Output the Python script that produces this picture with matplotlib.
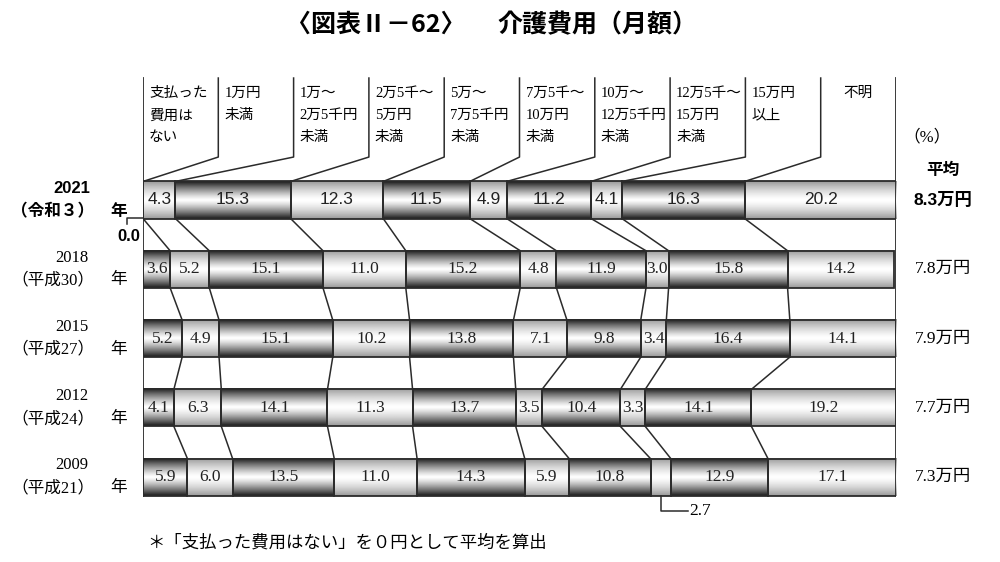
import numpy as np
import matplotlib.pyplot as plt

# data
years = ['2021', '2018', '2015', '2012', '2009']
eras = ['（令和３）', '（平成30）', '（平成27）', '（平成24）', '（平成21）']
averages = ['8.3万円', '7.8万円', '7.9万円', '7.7万円', '7.3万円']
categories = ['支払った\n費用は\nない', '1万円\n未満', '1万～\n2万5千円\n未満',
              '2万5千～\n5万円\n未満', '5万～\n7万5千円\n未満', '7万5千～\n10万円\n未満',
              '10万～\n12万5千円\n未満', '12万5千～\n15万円\n未満', '15万円\n以上', '不明']

v2021 = [0.0, 4.3, 15.3, 12.3, 11.5, 4.9, 11.2, 4.1, 16.3, 20.2]
v2018 = [3.6, 5.2, 15.1, 11.0, 15.2, 4.8, 11.9, 3.0, 15.8, 14.2]
v2015 = [5.2, 4.9, 15.1, 10.2, 13.8, 7.1, 9.8, 3.4, 16.4, 14.1]
v2012 = [4.1, 6.3, 14.1, 11.3, 13.7, 3.5, 10.4, 3.3, 14.1, 19.2]
v2009 = [5.9, 6.0, 13.5, 11.0, 14.3, 5.9, 10.8, 2.7, 12.9, 17.1]
values = [v2021, v2018, v2015, v2012, v2009]

CJK = 'Noto Sans CJK JP'
SANS = ['Liberation Sans', CJK]
SERIF = ['Liberation Serif', CJK]
plt.rcParams['font.family'] = [CJK, 'DejaVu Sans']
LC = '#2b2b2b'

fig = plt.figure(figsize=(10, 5.62), dpi=100)
ax = fig.add_axes([0.143, 0, 0.753, 1])

h = 0.535
t = np.linspace(0, 1, 80)
e = np.abs(t - 0.5) / 0.5
grad_dark = 1 - 0.9 * e ** 1.25
grad_light = 1 - 0.4 * e ** 1.4

bounds = [np.concatenate([[0], np.cumsum(v)]) for v in values]

for i, v in enumerate(values):
    left = bounds[i][:-1]
    for k, (l, w) in enumerate(zip(left, v)):
        if w <= 0:
            continue
        g = grad_dark if k % 2 == 0 else grad_light
        ax.imshow(g[:, None], extent=(l, l + w, i + h / 2, i - h / 2), cmap='gray',
                  vmin=0, vmax=1, aspect='auto', interpolation='bilinear', zorder=1)
    ax.barh(i, v, left=left, height=h, facecolor='none', edgecolor=LC,
            linewidth=1.3, zorder=3)
    fam = SANS if i == 0 else SERIF
    for l, w in zip(left, v):
        if w <= 0 or (i == 4 and w == 2.7):
            continue
        ax.text(l + w / 2, i, f'{w:.1f}', ha='center', va='center',
                fontsize=12.5, family=fam, color='#222', zorder=4)

# connectors between rows
for i in range(len(values) - 1):
    for k in range(1, 10):
        ax.plot([bounds[i][k], bounds[i + 1][k]], [i + h / 2, i + 1 - h / 2],
                color=LC, lw=1.1, zorder=2)

# header columns
top_y, bend_y = -1.76, -0.62
for k in range(1, 10):
    ax.plot([10 * k, 10 * k, bounds[0][k]], [top_y, bend_y, -h / 2],
            color=LC, lw=1.1, zorder=2)
for x in (0, 100):
    ax.plot([x, x], [top_y, len(values) - 1 + h / 2], color=LC, lw=1.3, zorder=2)
for k, lab in enumerate(categories):
    if lab == '不明':
        ax.text(10 * k + 5, -1.63, lab, ha='center', va='top', fontsize=10.5, family=SERIF)
    else:
        ax.text(10 * k + 0.8, -1.63, lab, ha='left', va='top', fontsize=10.5,
                family=SERIF, linespacing=1.9)

# row labels
for i, (yr, era, avg) in enumerate(zip(years, eras, averages)):
    wt = 'bold' if i == 0 else 'normal'
    fam = SANS if i == 0 else SERIF
    ax.text(-9.4, i - 0.17, yr, ha='center', va='center', fontsize=12, family=fam,
            weight=wt)
    ax.text(-6.5, i + 0.16, era, ha='right', va='center', fontsize=12, family=fam,
            weight=wt)
    ax.text(-3.2, i + 0.16, '年', ha='center', va='center', fontsize=12, family=fam,
            weight=wt)
    ax.text(106.2, i, avg, ha='center', va='center', fontsize=12.5, family=fam,
            weight=wt)
ax.text(104.1, -0.9, '（%）', ha='center', va='center', fontsize=12, family=SERIF)
ax.text(106.2, -0.43, '平均', ha='center', va='center', fontsize=12, weight='bold')

# 0.0 and 2.7 callouts
ax.plot([-2.1, -2.1, 0], [0.35, 0.26, 0.26], color=LC, lw=1.1, clip_on=False)
ax.text(-0.4, 0.53, f'{v2021[0]:.1f}', ha='right', va='center', fontsize=12,
        family=SANS, weight='bold')
cx = bounds[4][7] + v2009[7] / 2
ax.plot([cx, cx, 72.4], [4 + h / 2, 4 + h / 2 + 0.22, 4 + h / 2 + 0.22],
        color=LC, lw=1.1, clip_on=False)
ax.text(72.6, 4 + h / 2 + 0.22, f'{v2009[7]:.1f}', ha='left', va='center',
        fontsize=12.5, family=SERIF)

ax.set_xlim(0, 100)
ax.set_ylim(5.224, -2.886)
ax.axis('off')

fig.text(0.286, 1 - 25 / 562, '〈図表Ⅱ－62〉', ha='left', va='center', fontsize=18,
         weight='bold')
fig.text(0.497, 1 - 25 / 562, '介護費用（月額）', ha='left', va='center', fontsize=18,
         weight='bold')
fig.text(0.147, 1 - 543 / 562, '＊「支払った費用はない」を０円として平均を算出',
         ha='left', va='center', fontsize=12.5, family=SERIF)

fig.savefig('out.png', dpi=100)
